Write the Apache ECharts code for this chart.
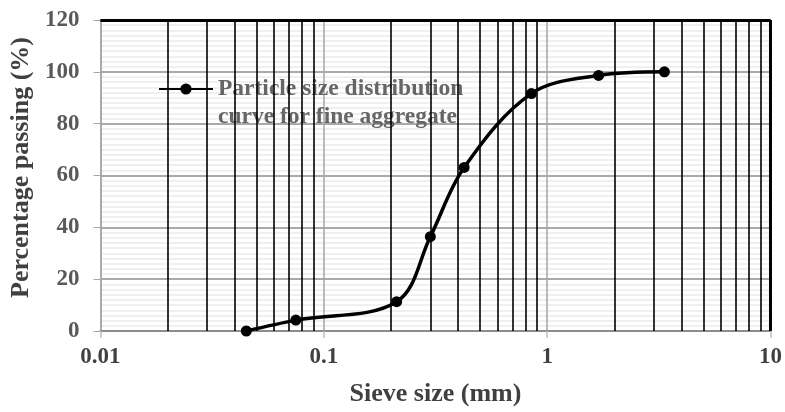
<!DOCTYPE html>
<html>
<head>
<meta charset="utf-8">
<script src="https://cdn.jsdelivr.net/npm/echarts@6/dist/echarts.min.js"></script>
<style>
  html, body { margin: 0; padding: 0; background: #fff; }
  #chart { width: 785px; height: 412px; }
</style>
</head>
<body>
<div id="chart"></div>
<script>
// Sieve sizes (mm) and cumulative percentage passing for the fine aggregate
const sieveSizes = [0.045, 0.075, 0.212, 0.3, 0.425, 0.85, 1.7, 3.35];
const percentPassing = [0, 4.2, 11.3, 36.4, 63.1, 91.6, 98.6, 100];

// Intermediate log-cycle grid lines (2..9 within each decade)
const minorSizes = [
  0.02, 0.03, 0.04, 0.05, 0.06, 0.07, 0.08, 0.09,
  0.2, 0.3, 0.4, 0.5, 0.6, 0.7, 0.8, 0.9,
  2, 3, 4, 5, 6, 7, 8, 9
];

const seriesName = 'Particle size distribution\ncurve for fine aggregate';
const FONT = 'Liberation Serif';

const chart = echarts.init(document.getElementById('chart'));
chart.setOption({
  animation: false,
  backgroundColor: '#fff',
  grid: { left: 100, right: 12, top: 20, bottom: 81, containLabel: false },
  legend: {
    left: 158, top: 47, padding: 0,
    itemWidth: 54, itemHeight: 14, itemGap: 0,
    data: [seriesName],
    // leading blank line keeps the marker level with the first text line
    formatter: name => '\n' + name,
    textStyle: {
      fontFamily: FONT, fontWeight: 'bold', fontSize: 23.5,
      color: '#666666', lineHeight: 28
    }
  },
  xAxis: {
    type: 'log', logBase: 10, min: 0.01, max: 10,
    name: 'Sieve size (mm)', nameLocation: 'middle', nameGap: 50,
    nameTextStyle: { fontFamily: FONT, fontWeight: 'bold', fontSize: 26, color: '#404040' },
    axisLine: { show: true, onZero: false, lineStyle: { color: '#8c8c8c', width: 2 } },
    axisTick: { show: true, length: 7, lineStyle: { color: '#bfbfbf', width: 1.5 } },
    axisLabel: {
      fontFamily: FONT, fontWeight: 'bold', fontSize: 23, color: '#404040', margin: 15,
      formatter: v => String(+v.toPrecision(6))
    },
    splitLine: { show: true, lineStyle: { color: '#a6a6a6', width: 1.5 } }
  },
  yAxis: {
    type: 'value', min: 0, max: 120, interval: 20,
    name: 'Percentage passing (%)', nameLocation: 'middle', nameGap: 65,
    nameTextStyle: {
      fontFamily: FONT, fontWeight: 'bold', fontSize: 26, color: '#404040',
      padding: [0, 0, 0, 16]
    },
    axisLine: { show: true, lineStyle: { color: '#a6a6a6', width: 1.5 } },
    axisTick: { show: true, length: 7, lineStyle: { color: '#a6a6a6' } },
    axisLabel: { fontFamily: FONT, fontWeight: 'bold', fontSize: 23, color: '#595959', margin: 21 },
    splitLine: { show: true, lineStyle: { color: '#8c8c8c', width: 1.5 } },
    minorTick: { show: false, splitNumber: 10 },
    minorSplitLine: { show: true, lineStyle: { color: '#ebebeb', width: 1.5 } }
  },
  series: [
    {
      // Log-cycle subdivisions and the heavy top/right frame
      name: 'grid',
      type: 'line',
      data: [],
      silent: true,
      markLine: {
        silent: true,
        symbol: 'none',
        label: { show: false },
        lineStyle: { color: '#000', width: 1.6, type: 'solid' },
        data: minorSizes.map(v => ({ xAxis: v }))
          .concat([
            { xAxis: 10, lineStyle: { color: '#000', width: 3 } },
            { yAxis: 120, lineStyle: { color: '#000', width: 3 } }
          ])
      }
    },
    {
      name: seriesName,
      type: 'line',
      smooth: 0.35,
      data: sieveSizes.map((s, i) => [s, percentPassing[i]]),
      symbol: 'circle',
      symbolSize: 11,
      lineStyle: { color: '#000', width: 3.5 },
      itemStyle: { color: '#000' },
      z: 5
    }
  ]
});
</script>
</body>
</html>
